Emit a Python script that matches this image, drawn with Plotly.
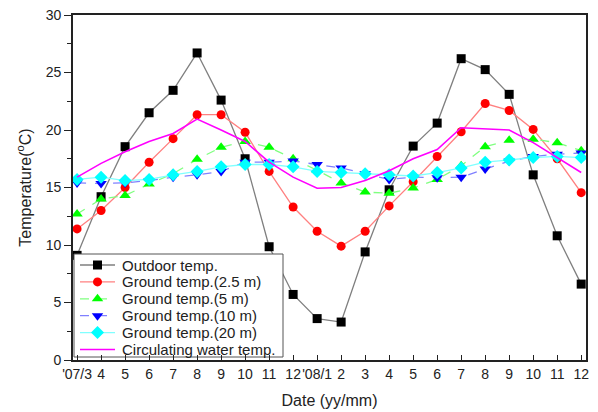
import plotly.graph_objects as go

months = ["'07/3", "4", "5", "6", "7", "8", "9", "10", "11", "12",
          "'08/1", "2", "3", "4", "5", "6", "7", "8", "9", "10", "11", "12"]

outdoor = [9.1, 14.2, 18.55, 21.5, 23.45, 26.7, 22.6, 17.5, 9.85, 5.7, 3.6,
           3.3, 9.4, 14.8, 18.6, 20.6, 26.2, 25.25, 23.1, 16.1, 10.8, 6.6]
ground_2_5 = [11.4, 13.0, 15.0, 17.2, 19.25, 21.33, 21.33, 19.8, 16.4, 13.3, 11.2,
              9.9, 11.2, 13.4, 15.5, 17.7, 19.85, 22.3, 21.7, 20.05, 17.5, 14.55]
ground_5 = [12.7, 14.0, 14.3, 15.3, 16.2, 17.45, 18.5, 19.0, 18.5, 17.5, 16.5,
            15.4, 14.6, 14.5, 14.95, 15.7, 16.9, 18.55, 19.1, 19.2, 18.9, 18.2]
ground_10 = [15.4, 15.35, 15.4, 15.6, 15.9, 16.1, 16.4, 17.2, 17.2, 17.3, 17.0,
             16.7, 16.2, 15.7, 15.9, 15.85, 15.9, 16.6, 17.3, 17.7, 17.9, 18.0]
ground_20 = [15.7, 15.9, 15.6, 15.7, 16.1, 16.4, 16.8, 17.0, 17.0, 16.8, 16.4,
             16.3, 16.2, 16.1, 16.0, 16.3, 16.7, 17.2, 17.4, 17.6, 17.7, 17.6]
circulating = [15.9, 17.1, 18.1, 19.0, 19.7, 20.95, 20.0, 19.0, 17.2, 15.9, 14.93,
               15.0, 15.6, 16.45, 17.5, 18.3, 20.2, 20.1, 20.0, 18.9, 17.6, 16.3]

series_names = ["Outdoor temp.", "Ground temp.(2.5 m)", "Ground temp.(5 m)",
                "Ground temp.(10 m)", "Ground temp.(20 m)", "Circulating water temp."]
series_values = [outdoor, ground_2_5, ground_5, ground_10, ground_20, circulating]

# styles: (marker colour, line colour, dash, symbol, marker size)
styles = [
    ("#000000", "#7f7f7f", "solid", "square", 9),
    ("#ff0000", "#ff8080", "solid", "circle", 9),
    ("#00ff00", "#80ff80", "dash", "triangle-up", 10),
    ("#0000ff", "#8080ff", "dash", "triangle-down", 10),
    ("#00ffff", "#80ffff", "solid", "diamond", 10),
    (None, "#ff00ff", "solid", None, 0),
]

fig = go.Figure()
x_idx = list(range(len(months)))
for name, vals, (mc, lc, dash, sym, sz) in zip(series_names, series_values, styles):
    if sym:
        fig.add_trace(go.Scatter(
            x=x_idx, y=vals, name=name, mode="lines+markers", showlegend=False,
            line=dict(color=lc, width=1.3, dash=dash),
            marker=dict(symbol=sym, size=sz, color=mc, line=dict(width=0)),
        ))
    else:
        fig.add_trace(go.Scatter(
            x=x_idx, y=vals, name=name, mode="lines", showlegend=False,
            line=dict(color=lc, width=1.6),
        ))

# ---- legend box drawn on an overlay axis measured in screen pixels ----
LX0, LX1, LY0, LY1 = 74, 283, 254, 357
fig.add_trace(go.Scatter(
    x=[LX0, LX1, LX1, LX0, LX0], y=[LY0, LY0, LY1, LY1, LY0],
    xaxis="x2", yaxis="y2", mode="lines", fill="toself", fillcolor="white",
    line=dict(color="#555", width=1), showlegend=False, hoverinfo="skip",
))
row_h = 16.9
for k, (name, (mc, lc, dash, sym, sz)) in enumerate(zip(series_names, styles)):
    yc = LY0 + 11 + k * row_h
    fig.add_trace(go.Scatter(
        x=[80, 115], y=[yc, yc], xaxis="x2", yaxis="y2", mode="lines",
        line=dict(color=lc, width=1.3 if sym else 1.6, dash=dash),
        showlegend=False, hoverinfo="skip",
    ))
    if sym:
        fig.add_trace(go.Scatter(
            x=[97.5], y=[yc], xaxis="x2", yaxis="y2", mode="markers",
            marker=dict(symbol=sym, size=sz, color=mc, line=dict(width=0)),
            showlegend=False, hoverinfo="skip",
        ))
    fig.add_annotation(
        x=120, y=yc, xref="x2", yref="y2", text=name, showarrow=False,
        xanchor="left", yanchor="middle", font=dict(size=15, color="#222"),
    )

fig.update_layout(
    width=598, height=412,
    margin=dict(l=73, r=12, t=15, b=52),
    paper_bgcolor="white", plot_bgcolor="white",
    font=dict(family="Liberation Sans, Arial, sans-serif", size=13, color="#222"),
    showlegend=False,
    xaxis=dict(
        range=[-0.17, 21.2], tickmode="array", tickvals=x_idx, ticktext=months,
        tickangle=0, ticks="inside", ticklen=5, tickwidth=1.3, tickcolor="#222",
        showline=True, linecolor="#222", linewidth=1.8, mirror=True,
        showgrid=False, zeroline=False, automargin=False,
        title=dict(text="Date (yy/mm)", font=dict(size=16), standoff=14),
        tickfont=dict(size=14),
    ),
    yaxis=dict(
        range=[0, 30], tickmode="linear", tick0=0, dtick=5,
        ticks="outside", ticklen=7, tickwidth=1.3, tickcolor="#222",
        minor=dict(dtick=2.5, ticks="outside", ticklen=4, tickcolor="#222"),
        showline=True, linecolor="#222", linewidth=1.8, mirror=True,
        showgrid=False, zeroline=False, automargin=False,
        title=dict(text="Temperature(<sup>o</sup>C)", font=dict(size=16), standoff=10),
        tickfont=dict(size=14),
    ),
    xaxis2=dict(overlaying="x", anchor="y2", range=[73, 586], visible=False,
                fixedrange=True),
    yaxis2=dict(overlaying="y", anchor="x2", range=[360, 15], visible=False,
                fixedrange=True),
)

fig.write_html(
    "out.html",
    config={"displayModeBar": False},
    post_script="document.body.style.margin='0';document.body.style.overflow='hidden';",
)
